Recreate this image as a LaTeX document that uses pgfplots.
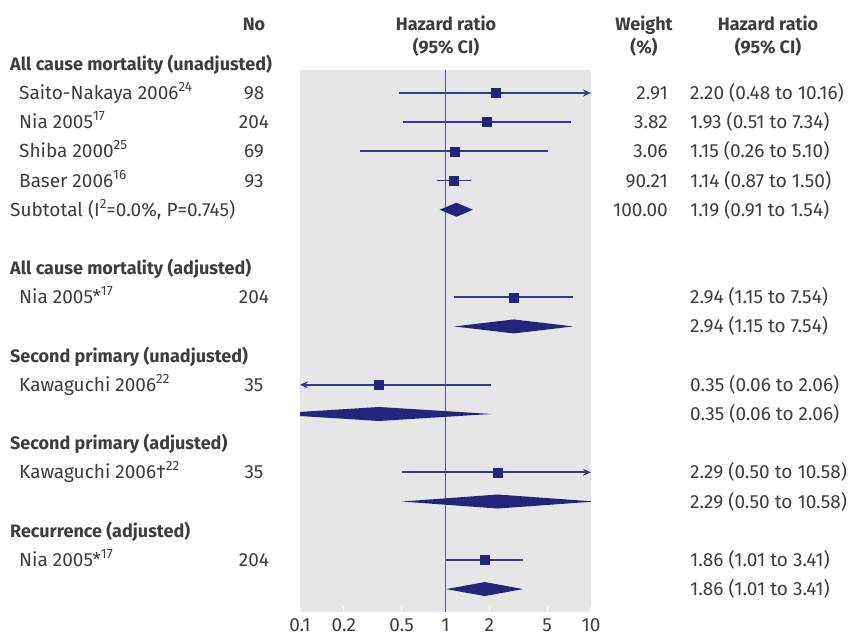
\documentclass[border=0pt]{standalone}
\usepackage{fontspec}
\setmainfont{Fira Sans}
\usepackage{pgfplots}
\pgfplotsset{compat=1.18}
\usetikzlibrary{arrows.meta}
\definecolor{navy}{HTML}{24247A}
\definecolor{cil}{HTML}{3A3A8C}
\definecolor{vl}{HTML}{5555A6}
\definecolor{panel}{HTML}{E6E6E6}
\definecolor{txt}{HTML}{3D3D3D}
\newcommand{\sups}[1]{\raisebox{0.42em}{\fontsize{13.5pt}{14pt}\selectfont #1}}
\begin{document}
\begin{tikzpicture}[x=1pt,y=1pt,
  every node/.style={text=txt,inner sep=0pt,font=\fontsize{19pt}{22pt}\selectfont},
  hd/.style={font=\fontsize{18pt}{21pt}\selectfont\bfseries}]
\useasboundingbox (0,0) rectangle (849,635);
\begin{axis}[at={(300pt,23pt)}, anchor=south west, scale only axis,
  width=291pt, height=542pt,
  xmode=log, xmin=0.1, xmax=10,
  y dir=reverse, ymin=-0.788, ymax=17.786,
  axis background/.style={fill=panel},
  axis line style={draw=none},
  ytick=\empty,
  xtick={0.1,0.2,0.5,1,2,5,10},
  xticklabels={0.1,0.2,0.5,1,2,5,10},
  tick align=inside, major tick length=5pt,
  xtick style={white, line width=1.2pt},
  tick pos=bottom,
  xticklabel style={text=txt, font=\fontsize{19pt}{22pt}\selectfont, anchor=base, yshift=-19pt},
  /pgf/number format/assume math mode=true,
  clip=true]
% line of no effect
\addplot[vl, line width=1.6pt] coordinates {(1,-0.788) (1,17.786)};
% confidence intervals
\addplot[cil, line width=1.8pt, -{Stealth[length=8pt,width=7pt]}] coordinates {(0.48,0) (10,0)};
\addplot[cil, line width=1.8pt] coordinates {(0.51,1) (7.34,1)};
\addplot[cil, line width=1.8pt] coordinates {(0.26,2) (5.10,2)};
\addplot[cil, line width=1.8pt] coordinates {(0.87,3) (1.50,3)};
\addplot[cil, line width=1.8pt] coordinates {(1.15,7) (7.54,7)};
\addplot[cil, line width=1.8pt, -{Stealth[length=8pt,width=7pt]}] coordinates {(2.06,10) (0.1,10)};
\addplot[cil, line width=1.8pt, -{Stealth[length=8pt,width=7pt]}] coordinates {(0.50,13) (10,13)};
\addplot[cil, line width=1.8pt] coordinates {(1.01,16) (3.41,16)};
% point estimates
\addplot[only marks, mark=square*, mark size=4.5pt, navy] coordinates {
(2.20,0) (1.93,1) (1.15,2) (1.14,3) (2.94,7) (0.35,10) (2.29,13) (1.86,16)};
% pooled estimates (diamonds)
\addplot[fill=navy, draw=none] coordinates {(0.91,4) (1.19,3.76) (1.54,4) (1.19,4.24)} -- cycle;
\addplot[fill=navy, draw=none] coordinates {(1.15,8) (2.94,7.76) (7.54,8) (2.94,8.24)} -- cycle;
\addplot[fill=navy, draw=none] coordinates {(0.06,11) (0.35,10.76) (2.06,11) (0.35,11.24)} -- cycle;
\addplot[fill=navy, draw=none] coordinates {(0.50,14) (2.29,13.76) (10.58,14) (2.29,14.24)} -- cycle;
\addplot[fill=navy, draw=none] coordinates {(1.01,17) (1.86,16.76) (3.41,17) (1.86,17.24)} -- cycle;
\end{axis}
% column headers
\node[hd,anchor=base] at (254,604.5) {No};
\node[hd,anchor=base] at (446,604.5) {Hazard ratio};
\node[hd,anchor=base] at (446,581.5) {(95\% CI)};
\node[hd,anchor=base] at (644,604.5) {Weight};
\node[hd,anchor=base] at (644,581.5) {(\%)};
\node[hd,anchor=base] at (768,604.5) {Hazard ratio};
\node[hd,anchor=base] at (768,581.5) {(95\% CI)};
% left labels: baseline = 535.5 - 29.18*i
\foreach \i/\t in {-1/All cause mortality (unadjusted), 6/All cause mortality (adjusted), 9/Second primary (unadjusted), 12/Second primary (adjusted), 15/Recurrence (adjusted)}
  \node[hd,anchor=base west] at (10,{535.5-29.18*\i}) {\t};
\node[anchor=base west] at (19,{535.5-29.18*0}) {Saito-Nakaya 2006\sups{24}};
\node[anchor=base west] at (19,{535.5-29.18*1}) {Nia 2005\sups{17}};
\node[anchor=base west] at (19,{535.5-29.18*2}) {Shiba 2000\sups{25}};
\node[anchor=base west] at (19,{535.5-29.18*3}) {Baser 2006\sups{16}};
\node[anchor=base west] at (10,{535.5-29.18*4}) {Subtotal (I\sups{2}=0.0\%, P=0.745)};
\node[anchor=base west] at (19,{535.5-29.18*7}) {Nia 2005*\sups{17}};
\node[anchor=base west] at (19,{535.5-29.18*10}) {Kawaguchi 2006\sups{22}};
\node[anchor=base west] at (19,{535.5-29.18*13}) {Kawaguchi 2006†\sups{22}};
\node[anchor=base west] at (19,{535.5-29.18*16}) {Nia 2005*\sups{17}};
% No column
\foreach \i/\t in {0/98, 1/204, 2/69, 3/93, 7/204, 10/35, 13/35, 16/204}
  \node[anchor=base] at (254,{535.5-29.18*\i}) {\t};
% Weight column
\foreach \i/\t in {0/2.91, 1/3.82, 2/3.06, 3/90.21, 4/100.00}
  \node[anchor=base east] at (668,{535.5-29.18*\i}) {\t};
% HR column
\foreach \i/\t in {0/2.20 (0.48 to 10.16), 1/1.93 (0.51 to 7.34), 2/1.15 (0.26 to 5.10), 3/1.14 (0.87 to 1.50), 4/1.19 (0.91 to 1.54), 7/2.94 (1.15 to 7.54), 8/2.94 (1.15 to 7.54), 10/0.35 (0.06 to 2.06), 11/0.35 (0.06 to 2.06), 13/2.29 (0.50 to 10.58), 14/2.29 (0.50 to 10.58), 16/1.86 (1.01 to 3.41), 17/1.86 (1.01 to 3.41)}
  \node[anchor=base west] at (690,{535.5-29.18*\i}) {\t};
\end{tikzpicture}
\end{document}
